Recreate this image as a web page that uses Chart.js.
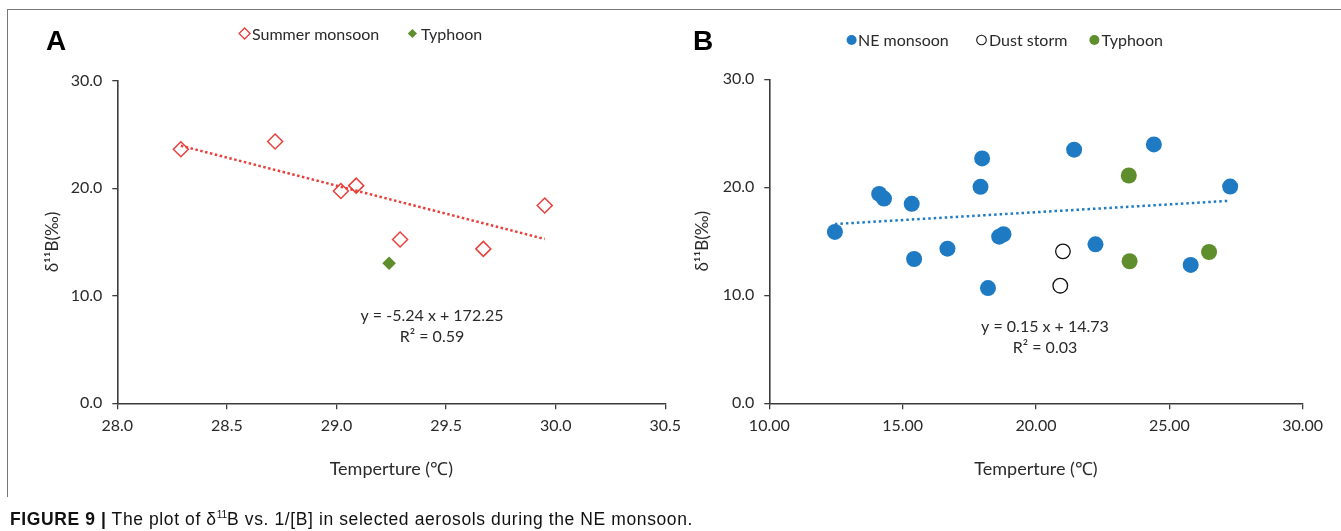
<!DOCTYPE html>
<html><head><meta charset="utf-8">
<script src="https://cdn.jsdelivr.net/npm/chart.js@4.4.0/dist/chart.umd.min.js"></script>
<style>
html,body{margin:0;padding:0;background:#fff;width:1341px;height:531px;overflow:hidden;}
#wrap{position:relative;width:1341px;height:531px;}
canvas{position:absolute;left:0;top:0;}
#frameTop{position:absolute;left:7px;top:9px;width:1334px;height:0;border-top:1.5px solid #777;}
#frameLeft{position:absolute;left:7px;top:9px;width:0;height:488px;border-left:1.5px solid #777;}
#caption{position:absolute;left:10px;top:509px;font-family:"Liberation Sans",Arial,sans-serif;font-size:17.5px;letter-spacing:0.6px;color:#111;white-space:nowrap;line-height:20px;}
#caption sup{font-size:10px;vertical-align:7px;line-height:0;letter-spacing:0;}
</style></head>
<body><div id="wrap">
<div id="frameTop"></div><div id="frameLeft"></div>
<canvas id="cA" width="1341" height="531"></canvas>
<canvas id="cB" width="1341" height="531"></canvas>
<div id="caption"><b>FIGURE 9 |</b> The plot of δ<sup>11</sup>B vs. 1/[B] in selected aerosols during the NE monsoon.</div>
</div>
<script>
// ---------- Panel A data ----------
const summerX = [28.29, 28.72, 29.02, 29.09, 29.29, 29.67, 29.95];
const summerY = [23.62, 24.34, 19.74, 20.24, 15.23, 14.36, 18.40];
const typhoonAX = [29.24];
const typhoonAY = [13.02];
const trendAX = [28.29, 29.95];
const trendAY = [23.95, 15.28];
const xTicksA = ['28.0', '28.5', '29.0', '29.5', '30.0', '30.5'];
// ---------- Panel B data ----------
const neX = [12.46, 14.12, 14.30, 15.34, 15.43, 16.68, 17.98, 17.92, 18.20, 18.62, 18.78, 21.43, 22.23, 24.42, 25.80, 27.28];
const neY = [15.87, 19.39, 18.96, 18.47, 13.36, 14.32, 22.67, 20.04, 10.67, 15.43, 15.65, 23.48, 14.72, 23.97, 12.81, 20.07];
const dustX = [21.01, 20.91];
const dustY = [14.07, 10.89];
const typhoonBX = [23.48, 23.51, 26.49];
const typhoonBY = [21.09, 13.15, 14.01];
const trendBX = [12.46, 27.28];
const trendBY = [16.60, 18.75];
const xTicksB = ['10.00', '15.00', '20.00', '25.00', '30.00'];
const yTicks = ['0.0', '10.0', '20.0', '30.0'];
const eqA = ['y = -5.24 x + 172.25', 'R² = 0.59'];
const eqB = ['y = 0.15 x + 14.73', 'R² = 0.03'];

const pts = (xs, ys) => xs.map((x, i) => ({x: x, y: ys[i]}));

const RED = '#E8403B', GREEN = '#5E8F2C', BLUE = '#1E7BC3', AX = '#3c3c3c', TXT = '#2a2a2a';
const FONT = 'Lato, "Open Sans", sans-serif';
Chart.defaults.font.family = FONT;

function drawMarker(ctx, style, r, x, y, fill, stroke, bw) {
  ctx.save();
  ctx.fillStyle = fill; ctx.strokeStyle = stroke; ctx.lineWidth = bw;
  if (Chart.helpers && Chart.helpers.drawPoint) {
    Chart.helpers.drawPoint(ctx, {pointStyle: style, radius: r, rotation: 0, borderWidth: bw}, x, y);
  } else {
    ctx.beginPath();
    if (style === 'rectRot') { ctx.moveTo(x - r, y); ctx.lineTo(x, y - r); ctx.lineTo(x + r, y); ctx.lineTo(x, y + r); ctx.closePath(); }
    else ctx.arc(x, y, r, 0, Math.PI * 2);
    ctx.fill(); if (bw > 0) ctx.stroke();
  }
  ctx.restore();
}

const textPlugin = {
  id: 'panelText',
  afterDraw(chart, args, o) {
    const ctx = chart.ctx;
    ctx.save();
    ctx.font = 'bold 28px "Liberation Sans", Arial, sans-serif';
    ctx.fillStyle = '#000'; ctx.textAlign = 'left'; ctx.textBaseline = 'alphabetic';
    ctx.fillText(o.letter, o.letterX, o.letterY);
    ctx.font = '16px ' + FONT; ctx.textBaseline = 'middle'; ctx.fillStyle = TXT;
    o.legend.forEach(it => {
      const ds = chart.data.datasets[it.ds];
      drawMarker(ctx, ds.pointStyle, it.r, it.x, o.legendY, ds.backgroundColor, ds.borderColor, it.bw);
      ctx.fillStyle = TXT; ctx.textAlign = 'left';
      ctx.fillText(ds.label, it.tx, o.legendY + 1);
    });
    ctx.textAlign = 'center';
    o.eq.forEach((line, i) => ctx.fillText(line, o.eqX, o.eqY[i]));
    ctx.restore();
  }
};

function makeChart(id, cfg) {
  return new Chart(document.getElementById(id), {
    type: 'scatter',
    data: {datasets: cfg.datasets},
    options: {
      responsive: false, animation: false, devicePixelRatio: 1, events: [],
      layout: {padding: cfg.padding},
      plugins: {legend: {display: false}, tooltip: {enabled: false}, panelText: cfg.text},
      scales: {
        x: {
          type: 'linear', min: cfg.xMin, max: cfg.xMax,
          afterFit: s => { s.height = 531 - 403.3; },
          afterBuildTicks: s => { s.ticks = cfg.xTicks.map(v => ({value: parseFloat(v)})); },
          ticks: {callback: (v, i) => cfg.xTicks[i], color: TXT, font: {size: 16}, padding: 7, maxRotation: 0, autoSkip: false},
          grid: {drawOnChartArea: false, drawTicks: true, tickLength: 6, color: AX, lineWidth: 1.3},
          border: {display: true, color: AX, width: 1.6},
          title: {display: true, text: 'Temperture (℃)', color: TXT, font: {size: 18}, padding: {top: 0, bottom: 51}}
        },
        y: {
          type: 'linear', min: 0, max: 30,
          afterFit: s => { s.width = cfg.yWidth; },
          afterBuildTicks: s => { s.ticks = yTicks.map(v => ({value: parseFloat(v)})); },
          ticks: {callback: (v, i) => yTicks[i], color: TXT, font: {size: 16}, padding: 10, autoSkip: false},
          grid: {drawOnChartArea: false, drawTicks: true, tickLength: 5, color: AX, lineWidth: 1.3},
          border: {display: true, color: AX, width: 1.6},
          title: {display: true, text: 'δ¹¹B(‰)', color: TXT, font: {size: 17}, padding: {top: cfg.yTitlePad, bottom: 0}}
        }
      }
    },
    plugins: [textPlugin]
  });
}

makeChart('cA', {
  xMin: 28, xMax: 30.5, xTicks: xTicksA, yWidth: 117.3, yTitlePad: 42.8,
  padding: {left: 0, top: 80.7, right: 1341 - 665.3, bottom: 0},
  datasets: [
    {label: 'trend', data: pts(trendAX, trendAY), showLine: true, borderColor: RED, borderWidth: 2.5, borderDash: [2.5, 2.5], pointRadius: 0, fill: false},
    {label: 'Summer monsoon', data: pts(summerX, summerY), pointStyle: 'rectRot', pointRadius: 7.5, backgroundColor: 'rgba(255,255,255,0)', borderColor: RED, pointBorderWidth: 1.5, borderWidth: 1.5},
    {label: 'Typhoon', data: pts(typhoonAX, typhoonAY), pointStyle: 'rectRot', pointRadius: 6.8, backgroundColor: GREEN, borderColor: GREEN, borderWidth: 0, pointBorderWidth: 0}
  ],
  text: {letter: 'A', letterX: 46, letterY: 50, legendY: 33.5,
    legend: [{ds: 1, r: 5.5, bw: 1.3, x: 244.6, tx: 252}, {ds: 2, r: 4.6, bw: 0, x: 412.4, tx: 421}],
    eq: eqA, eqX: 432, eqY: [316, 337]}
});

makeChart('cB', {
  xMin: 10, xMax: 30, xTicks: xTicksB, yWidth: 109.3, yTitlePad: 32.8,
  padding: {left: 660, top: 79.3, right: 1341 - 1302.7, bottom: 0},
  datasets: [
    {label: 'trend', data: pts(trendBX, trendBY), showLine: true, borderColor: BLUE, borderWidth: 2.5, borderDash: [2.5, 3], pointRadius: 0, fill: false},
    {label: 'NE monsoon', data: pts(neX, neY), pointStyle: 'circle', pointRadius: 8, backgroundColor: BLUE, borderColor: BLUE, borderWidth: 0, pointBorderWidth: 0},
    {label: 'Dust storm', data: pts(dustX, dustY), pointStyle: 'circle', pointRadius: 7.3, backgroundColor: 'rgba(255,255,255,0)', borderColor: '#111', borderWidth: 1.3, pointBorderWidth: 1.3},
    {label: 'Typhoon', data: pts(typhoonBX, typhoonBY), pointStyle: 'circle', pointRadius: 8, backgroundColor: GREEN, borderColor: GREEN, borderWidth: 0, pointBorderWidth: 0}
  ],
  text: {letter: 'B', letterX: 693, letterY: 49.5, legendY: 40,
    legend: [{ds: 1, r: 5, bw: 0, x: 851.6, tx: 858}, {ds: 2, r: 4.8, bw: 1.1, x: 981.5, tx: 989}, {ds: 3, r: 5, bw: 0, x: 1094.4, tx: 1101.6}],
    eq: eqB, eqX: 1045, eqY: [327, 348]}
});
</script>
</body></html>
